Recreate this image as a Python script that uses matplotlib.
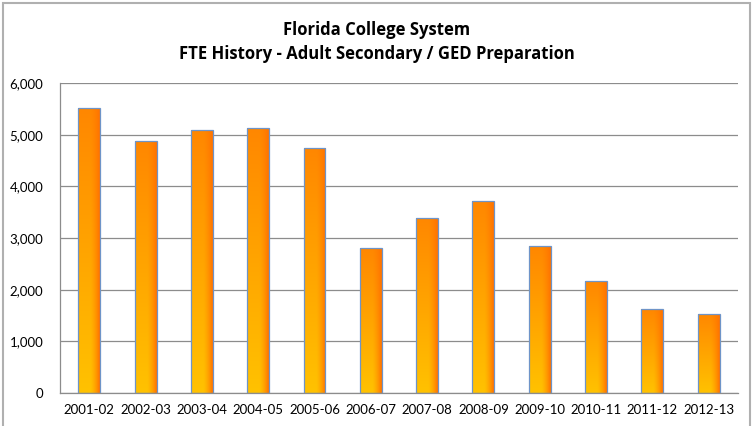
import numpy as np
import matplotlib
matplotlib.use("Agg")
import matplotlib.pyplot as plt
from matplotlib.patches import Rectangle

years = ["2001-02", "2002-03", "2003-04", "2004-05", "2005-06", "2006-07",
         "2007-08", "2008-09", "2009-10", "2010-11", "2011-12", "2012-13"]
fte = [5510, 4880, 5100, 5130, 4740, 2800, 3390, 3720, 2840, 2170, 1625, 1530]

plt.rcParams['font.family'] = ['Lato', 'DejaVu Sans']

fig = plt.figure(figsize=(7.53, 4.26), dpi=100)
ax = fig.add_axes([0.0797, 0.0775, 0.9003, 0.7275])

# outer chart border
fig.patches.append(Rectangle((0.004, -0.01), 0.992, 1.003, transform=fig.transFigure,
                             fill=False, edgecolor='#b0b0b0', linewidth=1.5))

width = 0.39
ax.set_xlim(-0.52, len(years) - 0.48)
ax.set_ylim(0, 6000)

# gradient: orange on top -> yellow at bottom, darker on right edge
ny, nx = 100, 40
ty = np.linspace(0, 1, ny)[:, None]          # 0 bottom, 1 top
tx = np.linspace(0, 1, nx)[None, :]
bottom_c = np.array([1.0, 0.76, 0.0])
top_c = np.array([1.0, 0.53, 0.0])
base = bottom_c + (top_c - bottom_c) * ty[..., None]
edge = np.array([1.0, 0.45, 0.0])
w = np.clip((tx - 0.55) / 0.45, 0, 1) ** 1.5
grad = base * (1 - w[..., None]) + edge * w[..., None]
grad = np.broadcast_to(grad, (ny, nx, 3))

for i, v in enumerate(fte):
    x0 = i - width / 2
    rect = Rectangle((x0, 0), width, v, facecolor='none', edgecolor='#6e94c8',
                     linewidth=0.9, zorder=3)
    ax.add_patch(rect)
    im = ax.imshow(grad, extent=(x0, x0 + width, 0, v), origin='lower',
                   aspect='auto', zorder=2, interpolation='bilinear')
    im.set_clip_path(rect)

ax.set_xticks(range(len(years)))
ax.set_xticklabels(years, fontsize=9.5)
ax.set_yticks(range(0, 6001, 1000))
ax.set_yticklabels([f"{t:,}" for t in range(0, 6001, 1000)], fontsize=9.5)
ax.tick_params(length=0, pad=8)
ax.tick_params(axis='y', pad=12)
ax.yaxis.grid(True, color='#8c8c8c', linewidth=0.9)
ax.set_axisbelow(True)
for s in ['top', 'right']:
    ax.spines[s].set_visible(False)
for s in ['left', 'bottom']:
    ax.spines[s].set_color('#8c8c8c')
    ax.spines[s].set_linewidth(0.9)

title_font = dict(family=['Open Sans', 'DejaVu Sans'], fontsize=12, fontweight='bold')
fig.text(0.5, 0.929, "Florida College System", ha='center', va='center', **title_font)
fig.text(0.5, 0.873, "FTE History - Adult Secondary / GED Preparation", ha='center',
         va='center', **title_font)

fig.savefig("out.png", dpi=100)
